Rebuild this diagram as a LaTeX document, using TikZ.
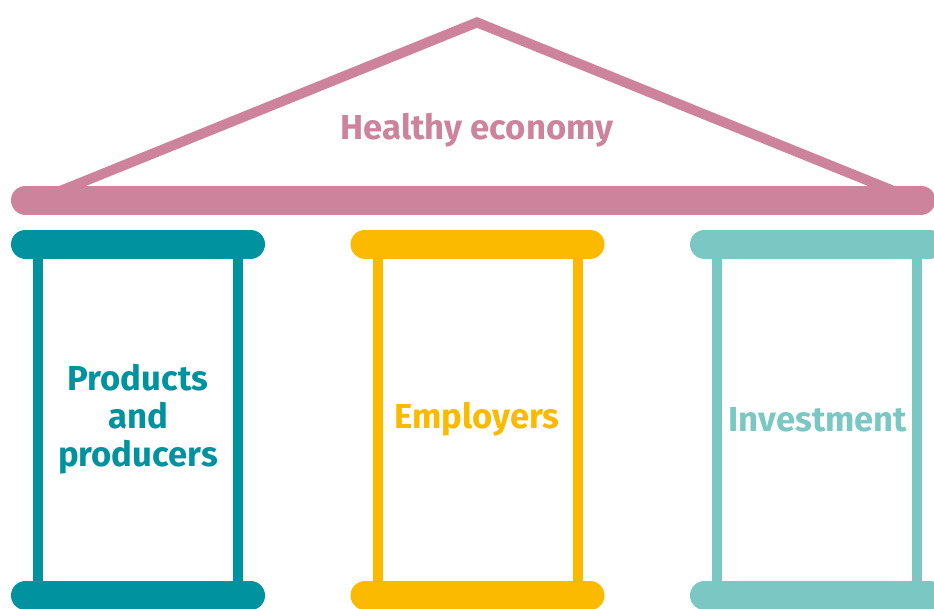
\documentclass[tikz,border=0pt]{standalone}
\usepackage{fontspec}
\setmainfont{Fira Sans}

\definecolor{roofpink}{HTML}{CD839C}
\definecolor{darkteal}{HTML}{00929F}
\definecolor{sunyellow}{HTML}{FBBA00}
\definecolor{lightteal}{HTML}{7AC7C3}

\begin{document}
\begin{tikzpicture}[x=0.75pt,y=-0.75pt,
  beam/.style={line width=21.75pt,line cap=round},
  post/.style={line width=7.5pt},
  roof/.style={line width=7.5pt,line join=miter,color=roofpink},
  pillar text/.style={font=\bfseries\fontsize{26}{28.5}\selectfont,align=center}]

\useasboundingbox (0,0) rectangle (934,608);
\clip (0,0) rectangle (934,608);

% roof
\coordinate (eaveL) at (38,200);
\coordinate (top) at (477,22.4);
\coordinate (eaveR) at (916,200);
\draw[roof] (eaveL) -- (top) -- (eaveR);
\coordinate (beamL) at (25.5,200);
\coordinate (beamR) at (921,200);
\draw[beam,roofpink] (beamL) -- (beamR);
\node[pillar text,text=roofpink] (economy) at (477,130) {Healthy economy};

% pillars
\foreach \dx/\col/\name in {0/darkteal/1,339.5/sunyellow/2,679/lightteal/3}{
  \begin{scope}[xshift=\dx*0.75pt]
    \coordinate (tl\name) at (25.5,244);
    \coordinate (tr\name) at (250.5,244);
    \coordinate (bl\name) at (25.5,595.5);
    \coordinate (br\name) at (250.5,595.5);
    \draw[post,\col] (38,244) -- (38,595.5);
    \draw[post,\col] (238,244) -- (238,595.5);
    \draw[beam,\col] (tl\name) -- (tr\name);
    \draw[beam,\col] (bl\name) -- (br\name);
  \end{scope}
}

\node[pillar text,text=darkteal] (1) at (138,419.5) {Products\\and\\producers};
\node[pillar text,text=sunyellow] (2) at (477,419.5) {Employers};
\node[pillar text,text=lightteal] (3) at (818,419.5) {Investment};

\end{tikzpicture}
\end{document}
